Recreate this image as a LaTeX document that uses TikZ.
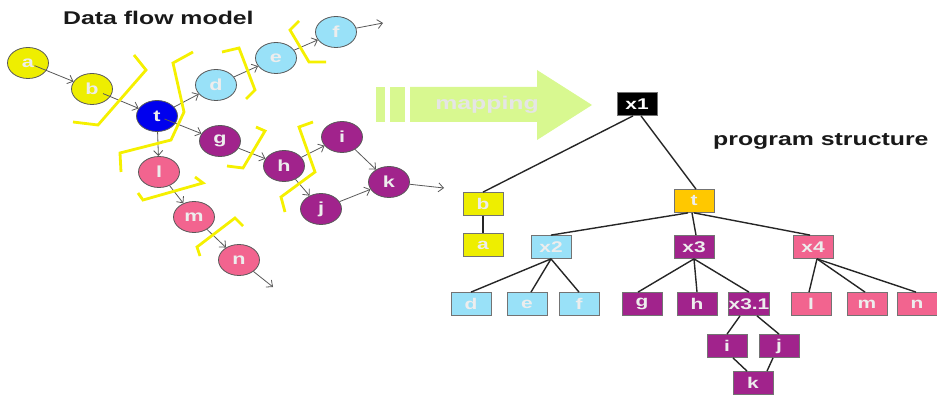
\documentclass[tikz,border=0pt]{standalone}
\usepackage{fontspec}
\newfontfamily\wf[FakeStretch=1.35]{Liberation Sans}
\usetikzlibrary{shapes.geometric,arrows.meta}
\definecolor{yellowF}{HTML}{EEEE00}
\definecolor{blueF}{HTML}{0000EE}
\definecolor{cyanF}{HTML}{99E1F8}
\definecolor{purpleF}{HTML}{A1238C}
\definecolor{pinkF}{HTML}{F2648F}
\definecolor{orangeF}{HTML}{FFC800}
\definecolor{greenA}{HTML}{D8F890}
\definecolor{yellowB}{HTML}{F5F000}
\definecolor{labelC}{HTML}{EDEDED}
\tikzset{
  ell/.style={ellipse, draw=black!65, line width=0.8pt, minimum width=41pt, minimum height=31pt, inner sep=0pt,
    font=\wf\bfseries\fontsize{16}{16}\selectfont, text=labelC},
  tbox/.style={rectangle, draw=black!55, line width=0.8pt, minimum width=40pt, minimum height=23pt, inner sep=0pt,
    font=\wf\bfseries\fontsize{15.5}{15.5}\selectfont, text=labelC},
  flow/.style={draw=black!65, line width=0.8pt, -{Straight Barb[length=5pt,width=9pt]}},
  brk/.style={draw=yellowB, line width=2.8pt, line join=miter},
  tedge/.style={draw=black!85, line width=1.4pt},
  bigtext/.style={font=\wf\bfseries\fontsize{18.4}{18.4}\selectfont, inner sep=0pt},
}
\begin{document}
\begin{tikzpicture}[x=1pt,y=-1pt]
\useasboundingbox (0,0) rectangle (937,398);

% titles
\node[bigtext, anchor=base west, text=black!90] (title) at (63,25) {Data flow model};
\node[bigtext, anchor=base west, text=black!90] (ptitle) at (713,146) {program structure};

% mapping arrow
\fill[greenA] (376,87) rectangle (385,122);
\fill[greenA] (390,87) rectangle (405,122);
\fill[greenA] (410,87) -- (537,87) -- (537,70) -- (592,105) -- (537,140) -- (537,122) -- (410,122) -- cycle;
\node[bigtext, anchor=base, text=white!90!black] (maplbl) at (487,110) {mapping};

% data flow nodes
\node[ell, fill=yellowF] (a) at (28,63) {a};
\node[ell, fill=yellowF] (b) at (92,89) {b};
\node[ell, fill=blueF] (t) at (157,116) {t};
\node[ell, fill=cyanF] (d) at (216,85) {d};
\node[ell, fill=cyanF] (e) at (276,58) {e};
\node[ell, fill=cyanF] (f) at (336,32) {f};
\node[ell, fill=purpleF] (g) at (220,141) {g};
\node[ell, fill=purpleF] (h) at (284,166) {h};
\node[ell, fill=purpleF] (i) at (342,137) {i};
\node[ell, fill=purpleF] (j) at (321,209) {j};
\node[ell, fill=purpleF] (k) at (389,182) {k};
\node[ell, fill=pinkF] (l) at (159,172) {l};
\node[ell, fill=pinkF] (m) at (194,217) {m};
\node[ell, fill=pinkF] (n) at (239,260) {n};
\coordinate (fout) at (383,23);
\coordinate (kout) at (444,188);
\coordinate (nout) at (273,287);

% data flow arrows
\draw[flow, shorten <=7pt] (a.center) -- (b);
\draw[flow, shorten <=12pt] (b.center) -- (t);
\draw[flow] (t) -- (d);
\draw[flow, shorten <=8pt] (t.center) -- (g);
\draw[flow] (t) -- (l);
\draw[flow] (d) -- (e);
\draw[flow] (e) -- (f);
\draw[flow] (f) -- (fout);
\draw[flow] (g) -- (h);
\draw[flow] (h) -- (i);
\draw[flow] (h) -- (j);
\draw[flow] (i) -- (k);
\draw[flow] (j) -- (k);
\draw[flow] (k) -- (kout);
\draw[flow] (l) -- (m);
\draw[flow] (m) -- (n);
\draw[flow] (n) -- (nout);

% yellow brackets
\draw[brk] (134,55) -- (146,70) -- (98,125) -- (73,122);
\draw[brk] (193,52) -- (173,63) -- (184,112) -- (171,140) -- (120,153) -- (121,172);
\draw[brk] (222,52) -- (239,48) -- (255,90) -- (246,99);
\draw[brk] (299,21) -- (290,30) -- (309,62) -- (326,62);
\draw[brk] (256,127) -- (265,131) -- (243,168) -- (227,166);
\draw[brk] (313,122) -- (299,127) -- (315,172) -- (281,197) -- (285,212);
\draw[brk] (195,177) -- (203,183) -- (143,200) -- (138,193);
\draw[brk] (243,226) -- (235,218) -- (197,247) -- (200,256);

% program structure tree
\node[tbox, fill=black, text=white] (x1) at (637,104) {x1};
\node[tbox, fill=yellowF] (tb) at (483,204) {b};
\node[tbox, fill=yellowF] (ta) at (483,245) {a};
\node[tbox, fill=orangeF] (tt) at (694,201) {t};
\node[tbox, fill=cyanF] (x2) at (551,247) {x2};
\node[tbox, fill=purpleF] (x3) at (694,247) {x3};
\node[tbox, fill=pinkF] (x4) at (813,247) {x4};
\node[tbox, fill=cyanF] (td) at (471,304) {d};
\node[tbox, fill=cyanF] (te) at (527,304) {e};
\node[tbox, fill=cyanF] (tf) at (579,304) {f};
\node[tbox, fill=purpleF] (tg) at (642,304) {g};
\node[tbox, fill=purpleF] (th) at (697,304) {h};
\node[tbox, fill=purpleF] (x31) at (749,304) {x3.1};
\node[tbox, fill=pinkF] (tl) at (811,304) {l};
\node[tbox, fill=pinkF] (tm) at (867,304) {m};
\node[tbox, fill=pinkF] (tn) at (917,304) {n};
\node[tbox, fill=purpleF] (ti) at (727,346) {i};
\node[tbox, fill=purpleF] (tj) at (779,346) {j};
\node[tbox, fill=purpleF] (tk) at (753,383) {k};

\draw[tedge] ([xshift=-4pt]x1.south) -- (tb.north);
\draw[tedge] ([xshift=4pt]x1.south) -- ([xshift=2pt]tt.north);
\draw[tedge] (tb) -- (ta);
\draw[tedge] ([xshift=-6pt]tt.south) -- (x2.north);
\draw[tedge] ([xshift=-2pt]tt.south) -- ([xshift=2pt]x3.north);
\draw[tedge] (tt.south) -- ([xshift=-3pt]x4.north);
\draw[tedge] (x2.south) -- (td.north);
\draw[tedge] (x2.south) -- ([xshift=4pt]te.north);
\draw[tedge] (x2.south) -- (tf.north);
\draw[tedge] (x3.south) -- ([xshift=-4pt]tg.north);
\draw[tedge] (x3.south) -- (th.north);
\draw[tedge] (x3.south) -- (x31.north);
\draw[tedge] ([xshift=4pt]x4.south) -- ([xshift=-2pt]tl.north);
\draw[tedge] ([xshift=4pt]x4.south) -- ([xshift=-2pt]tm.north);
\draw[tedge] ([xshift=4pt]x4.south) -- ([xshift=-1pt]tn.north);
\draw[tedge] ([xshift=-9pt]x31.south) -- (ti.north);
\draw[tedge] ([xshift=8pt]x31.south) -- (tj.north);
\draw[tedge] ([xshift=6pt]ti.south) -- ([xshift=-6pt]tk.north);
\draw[tedge] ([xshift=-6pt]tj.south) -- ([xshift=14pt]tk.north);
\end{tikzpicture}
\end{document}
